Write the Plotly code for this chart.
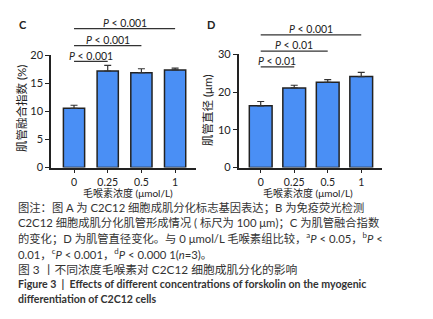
import plotly.graph_objects as go

W, H = 433, 319

categories = ["0", "0.25", "0.5", "1"]
fusion_mean = [10.55, 17.2, 16.9, 17.4]
fusion_err = [0.55, 1.0, 0.7, 0.3]
diam_mean = [16.35, 21.1, 22.6, 24.1]
diam_err = [1.15, 0.7, 0.7, 1.1]
c_yticks = [0, 5, 10, 15, 20]
d_yticks = [0, 10, 20, 30]
c_pvals = ["<i>P</i> < 0.001", "<i>P</i> < 0.001", "<i>P</i> < 0.001"]
d_pvals = ["<i>P</i> < 0.01", "<i>P</i> < 0.01", "<i>P</i> < 0.001"]
c_ytitle = "肌管融合指数 (%)"
d_ytitle = "肌管直径 (μm)"
xtitle = "毛喉素浓度 (μmol/L)"
caption = [
    "图注：图 A 为 C2C12 细胞成肌分化标志基因表达；B 为免疫荧光检测",
    "C2C12 细胞成肌分化肌管形成情况 ( 标尺为 100 μm)；C 为肌管融合指数",
    "的变化；D 为肌管直径变化。与 0 μmol/L 毛喉素组比较，<sup>a</sup><i>P</i> < 0.05，<sup>b</sup><i>P</i> <",
    "0.01，<sup>c</sup><i>P</i> < 0.001，<sup>d</sup><i>P</i> < 0.000 1(<i>n</i>=3)。",
]
title_cn = "图 3 丨不同浓度毛喉素对 C2C12 细胞成肌分化的影响"
title_en = ["Figure 3  |  Effects of different concentrations of forskolin on the myogenic",
            "differentiation of C2C12 cells"]

FONT = "Lato, Noto Sans CJK SC, sans-serif"
BAR = "#4a8ff5"
DARK = "#222222"
xs = list(range(len(categories)))

def px(x):
    return x / W

def py(y):
    return 1 - y / H

def note(x, y, text, size=10.5, color="#222", xanchor="center", angle=0):
    fig.add_annotation(xref="paper", yref="paper", x=px(x), y=py(y), text=text, showarrow=False,
                       xanchor=xanchor, yanchor="middle", textangle=angle,
                       font=dict(family=FONT, size=size, color=color))

fig = go.Figure()
fig.add_trace(go.Bar(x=xs, y=fusion_mean, width=0.63, marker=dict(color=BAR, line=dict(color=DARK, width=1.5)),
                     error_y=dict(type="data", array=fusion_err, arrayminus=[0]*4, symmetric=False,
                                  color="#333", thickness=1.2, width=3.5),
                     xaxis="x", yaxis="y", showlegend=False))
fig.add_trace(go.Bar(x=xs, y=diam_mean, width=0.68, marker=dict(color=BAR, line=dict(color=DARK, width=1.5)),
                     error_y=dict(type="data", array=diam_err, arrayminus=[0]*4, symmetric=False,
                                  color="#333", thickness=1.2, width=3.5),
                     xaxis="x2", yaxis="y2", showlegend=False))

axcommon = dict(showgrid=False, zeroline=False, showline=True, linecolor=DARK, linewidth=1.5,
                ticks="outside", ticklen=4, tickwidth=1.3, tickcolor=DARK)
tf = dict(tickfont=dict(family=FONT, size=11, color="#222"))
tfx = dict(tickfont=dict(family=FONT, size=10.5, color="#222"))
fig.update_layout(
    width=W, height=H, margin=dict(l=0, r=0, t=0, b=0),
    paper_bgcolor="white", plot_bgcolor="white",
    xaxis=dict(domain=[px(43), px(188)], range=[-0.683, 3.62], tickvals=xs, ticktext=categories,
               anchor="y", **axcommon, **tfx),
    yaxis=dict(domain=[py(159), py(42)], range=[0, 20], tickvals=c_yticks, anchor="x", **axcommon, **tf),
    xaxis2=dict(domain=[px(230.7), px(374)], range=[-0.657, 3.62], tickvals=xs, ticktext=categories,
                anchor="y2", **axcommon, **tfx),
    yaxis2=dict(domain=[py(159), py(41)], range=[0, 30], tickvals=d_yticks, anchor="x2", **axcommon, **tf),
)

# significance brackets
c_levels = [48.3, 32, 14.3]
d_levels = [54, 37.7, 20.7]
for xa, levels, pvals in (("x", c_levels, c_pvals), ("x2", d_levels, d_pvals)):
    for i, (lv, txt) in enumerate(zip(levels, pvals)):
        fig.add_shape(type="line", xref=xa, yref="paper", x0=0, x1=i + 1, y0=py(lv), y1=py(lv),
                      line=dict(color="#333", width=1.3))
        fig.add_annotation(xref=xa, yref="paper", x=(i + 1) / 2, y=py(lv - 6), text=txt, showarrow=False,
                           xanchor="center", yanchor="middle",
                           font=dict(family=FONT, size=10.5, color="#222"))

# panel labels
note(15, 10, "<b>C</b>", size=11)
note(203, 10, "<b>D</b>", size=11)

# axis titles
note(13, 98, c_ytitle, size=11.5, angle=-90)
note(200, 100, d_ytitle, size=11.5, angle=-90)
note(120, 186, xtitle, size=10)
note(300, 186, xtitle, size=10)

# caption
cap_y = [201, 216.5, 232, 248.5]
for t, yy in zip(caption, cap_y):
    note(8, yy, t, size=11.3, color="#333", xanchor="left")
note(8, 265, title_cn, size=11.8, color="#333", xanchor="left")
for t, yy in zip(title_en, [280, 296.5]):
    note(8, yy, "<b>" + t + "</b>", size=10.6, color="#333", xanchor="left")

fig.write_html("out.html")
